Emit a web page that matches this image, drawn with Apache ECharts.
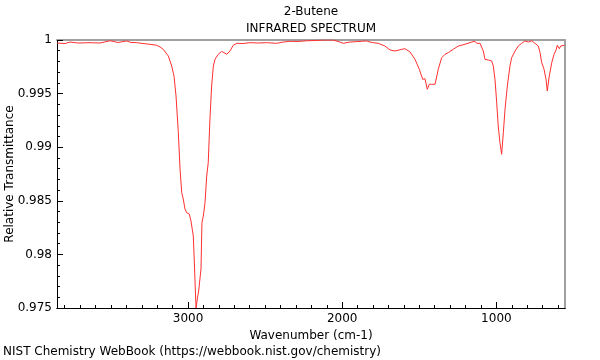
<!DOCTYPE html>
<html>
<head>
<meta charset="utf-8">
<script src="https://cdn.jsdelivr.net/npm/echarts@6/dist/echarts.min.js"></script>
<style>html,body{margin:0;padding:0;background:#fff;}#c{width:600px;height:360px;}</style>
</head>
<body>
<div id="c"></div>
<script>
const titleMain = "2-Butene";
const titleSub = "INFRARED SPECTRUM";
const xAxisTitle = "Wavenumber (cm-1)";
const yAxisTitle = "Relative Transmittance";
const footer = "NIST Chemistry WebBook (https://webbook.nist.gov/chemistry)";

const xMin = 555, xMax = 3850;
const yMin = 0.975, yMax = 1;
const xMajorTicks = [1000, 2000, 3000];
const xMinorTicks = [600,700,800,900,1100,1200,1300,1400,1500,1600,1700,1800,1900,2100,2200,2300,2400,2500,2600,2700,2800,2900,3100,3200,3300,3400,3500,3600,3700,3800];

const wavenumbers = [3850,3842,3798,3766,3714,3636,3571,3506,3454,3398,3370,3333,3292,3247,3203,3182,3161,3150,3128,3117,3106,3096,3091,3078,3063,3052,3041,3031,3020,3009,2992,2981,2972,2966,2959,2953,2948,2940,2931,2922,2916,2910,2901,2890,2879,2869,2858,2847,2836,2825,2804,2782,2767,2749,2728,2707,2684,2644,2598,2546,2490,2425,2384,2339,2287,2230,2177,2123,2058,2015,1993,1950,1898,1841,1820,1798,1766,1755,1723,1690,1658,1614,1593,1560,1528,1500,1478,1463,1448,1435,1420,1398,1377,1355,1333,1312,1280,1247,1204,1160,1139,1128,1106,1085,1074,1051,1031,1020,1009,998,988,977,966,955,944,929,912,901,879,858,836,815,793,771,750,728,717,706,691,678,670,657,641,626,613,605,592,583,572,559,555];
const transmittance = [0.99972,0.99975,0.99967,0.99981,0.99972,0.99975,0.99972,0.99993,0.99977,0.99991,0.99977,0.99975,0.99967,0.99960,0.99951,0.99935,0.99913,0.99897,0.99851,0.99804,0.99757,0.99695,0.99664,0.99478,0.99135,0.98797,0.98576,0.98517,0.98424,0.98389,0.98377,0.98312,0.98330,0.98172,0.97920,0.97677,0.97500,0.97584,0.97659,0.97677,0.97864,0.98296,0.98358,0.98482,0.98731,0.98855,0.99263,0.99571,0.99757,0.99820,0.99867,0.99893,0.99882,0.99867,0.99897,0.99951,0.99969,0.99967,0.99975,0.99972,0.99975,0.99969,0.99981,0.99988,0.99986,0.99993,0.99995,0.99999,0.99999,0.99981,0.99969,0.99981,0.99986,0.99991,0.99981,0.99975,0.99969,0.99975,0.99944,0.99907,0.99897,0.99913,0.99919,0.99888,0.99820,0.99727,0.99633,0.99639,0.99540,0.99587,0.99587,0.99587,0.99727,0.99835,0.99867,0.99882,0.99913,0.99944,0.99960,0.99981,0.99988,0.99969,0.99969,0.99897,0.99820,0.99813,0.99804,0.99757,0.99633,0.99415,0.99198,0.99042,0.98934,0.99135,0.99354,0.99571,0.99757,0.99835,0.99897,0.99944,0.99969,0.99991,0.99981,0.99993,0.99969,0.99944,0.99882,0.99788,0.99727,0.99633,0.99524,0.99664,0.99788,0.99867,0.99907,0.99951,0.99919,0.99944,0.99928,0.99951,0.99950];

const FONT = "DejaVu Sans";
const data = wavenumbers.map((w, i) => [w, transmittance[i]]);

const chart = echarts.init(document.getElementById('c'), null, {renderer: 'canvas'});
chart.setOption({
  animation: false,
  textStyle: {fontFamily: FONT},
  grid: {left: 57, right: 35, top: 40, bottom: 52, containLabel: false, outerBoundsMode: 'none'},
  xAxis: [
    {
      type: 'value', inverse: true, min: xMin, max: xMax, position: 'bottom',
      name: xAxisTitle, nameLocation: 'middle', nameGap: 18,
      nameTextStyle: {fontFamily: FONT, fontSize: 12, color: '#000'},
      axisLine: {show: true, lineStyle: {color: '#000', width: 1}},
      axisTick: {show: true, inside: true, length: 6, customValues: xMajorTicks, lineStyle: {color: '#000'}},
      axisLabel: {show: true, customValues: xMajorTicks, fontFamily: FONT, fontSize: 12, color: '#000', margin: 5,
                  formatter: v => String(v)},
      splitLine: {show: false}
    },
    {
      type: 'value', inverse: true, min: xMin, max: xMax, position: 'bottom', gridIndex: 0,
      axisLine: {show: true, lineStyle: {color: '#000', width: 1}},
      axisTick: {show: true, inside: true, length: 3, customValues: xMinorTicks, lineStyle: {color: '#000'}},
      axisLabel: {show: false},
      splitLine: {show: false}
    },
    {
      type: 'value', inverse: true, min: xMin, max: xMax, position: 'top',
      axisLine: {show: true, lineStyle: {color: '#a0a0a0', width: 2}},
      axisTick: {show: false}, axisLabel: {show: false}, splitLine: {show: false}
    }
  ],
  yAxis: [
    {
      type: 'value', min: yMin, max: yMax, interval: 0.005, position: 'left',
      axisLine: {show: true, lineStyle: {color: '#000', width: 1}},
      axisTick: {show: true, inside: true, length: 6, lineStyle: {color: '#000'}},
      minorTick: {show: true, splitNumber: 5, length: 3, lineStyle: {color: '#000'}},
      axisLabel: {fontFamily: FONT, fontSize: 12, color: '#000', margin: 5},
      splitLine: {show: false}, minorSplitLine: {show: false}
    },
    {
      type: 'value', min: yMin, max: yMax, position: 'right',
      axisLine: {show: true, lineStyle: {color: '#a0a0a0', width: 2}},
      axisTick: {show: false}, axisLabel: {show: false}, splitLine: {show: false}
    }
  ],
  series: [{
    type: 'line', xAxisIndex: 0, yAxisIndex: 0, data: data,
    showSymbol: false, symbol: 'none', smooth: false,
    lineStyle: {color: '#ff3030', width: 1},
    clip: true
  }],
  graphic: [
    {type: 'text', x: 311, y: 6, style: {text: titleMain, fontFamily: FONT, fontSize: 12, fill: '#000', align: 'center'}},
    {type: 'text', x: 311, y: 23, style: {text: titleSub, fontFamily: FONT, fontSize: 12, fill: '#000', align: 'center'}},
    {type: 'text', x: 4, y: 174, rotation: Math.PI / 2, style: {text: yAxisTitle, fontFamily: FONT, fontSize: 12, fill: '#000', align: 'center', verticalAlign: 'top'}},
    {type: 'text', x: 3, y: 346, style: {text: footer, fontFamily: FONT, fontSize: 12, fill: '#000'}}
  ]
});
</script>
</body>
</html>
